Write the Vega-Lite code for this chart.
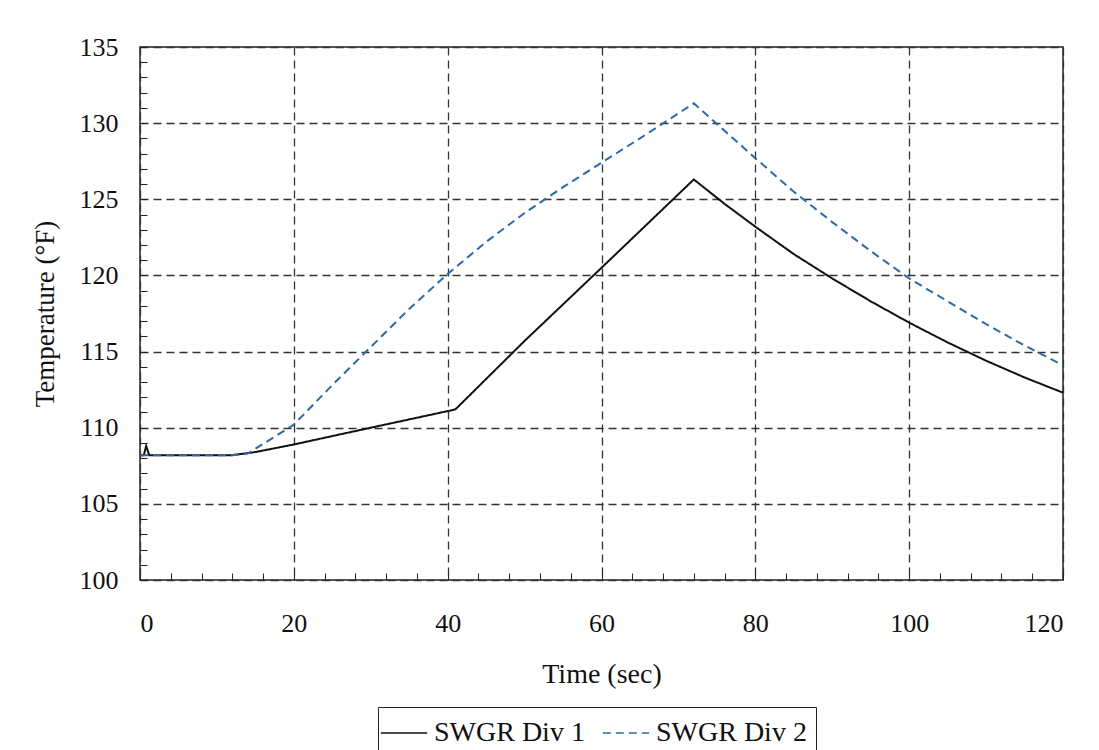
{
  "$schema": "https://vega.github.io/schema/vega-lite/v6.json",
  "width": 923,
  "height": 533,
  "autosize": {"type": "none"},
  "padding": {"left": 140, "top": 47, "right": 36, "bottom": 170},
  "background": "white",
  "config": {
    "view": {"stroke": "#222", "strokeWidth": 1.5},
    "font": "Liberation Serif"
  },
  "data": {
    "values": [
      {"time": 0, "temp": 108.2, "series": "SWGR Div 1"},
      {"time": 0.5, "temp": 108.2, "series": "SWGR Div 1"},
      {"time": 0.8, "temp": 108.8, "series": "SWGR Div 1"},
      {"time": 1.2, "temp": 108.2, "series": "SWGR Div 1"},
      {"time": 12, "temp": 108.2, "series": "SWGR Div 1"},
      {"time": 15, "temp": 108.4, "series": "SWGR Div 1"},
      {"time": 20, "temp": 108.9, "series": "SWGR Div 1"},
      {"time": 30, "temp": 110.0, "series": "SWGR Div 1"},
      {"time": 41, "temp": 111.2, "series": "SWGR Div 1"},
      {"time": 50, "temp": 115.7, "series": "SWGR Div 1"},
      {"time": 60, "temp": 120.5, "series": "SWGR Div 1"},
      {"time": 72, "temp": 126.3, "series": "SWGR Div 1"},
      {"time": 76, "temp": 124.7, "series": "SWGR Div 1"},
      {"time": 80, "temp": 123.2, "series": "SWGR Div 1"},
      {"time": 85, "temp": 121.4, "series": "SWGR Div 1"},
      {"time": 90, "temp": 119.8, "series": "SWGR Div 1"},
      {"time": 95, "temp": 118.3, "series": "SWGR Div 1"},
      {"time": 100, "temp": 116.9, "series": "SWGR Div 1"},
      {"time": 105, "temp": 115.6, "series": "SWGR Div 1"},
      {"time": 110, "temp": 114.4, "series": "SWGR Div 1"},
      {"time": 115, "temp": 113.3, "series": "SWGR Div 1"},
      {"time": 120, "temp": 112.3, "series": "SWGR Div 1"},
      {"time": 0, "temp": 108.2, "series": "SWGR Div 2"},
      {"time": 12, "temp": 108.2, "series": "SWGR Div 2"},
      {"time": 14, "temp": 108.3, "series": "SWGR Div 2"},
      {"time": 20, "temp": 110.2, "series": "SWGR Div 2"},
      {"time": 25, "temp": 112.8, "series": "SWGR Div 2"},
      {"time": 30, "temp": 115.3, "series": "SWGR Div 2"},
      {"time": 35, "temp": 117.8, "series": "SWGR Div 2"},
      {"time": 40, "temp": 120.1, "series": "SWGR Div 2"},
      {"time": 45, "temp": 122.2, "series": "SWGR Div 2"},
      {"time": 50, "temp": 124.1, "series": "SWGR Div 2"},
      {"time": 55, "temp": 125.8, "series": "SWGR Div 2"},
      {"time": 60, "temp": 127.4, "series": "SWGR Div 2"},
      {"time": 65, "temp": 129.0, "series": "SWGR Div 2"},
      {"time": 72, "temp": 131.3, "series": "SWGR Div 2"},
      {"time": 76, "temp": 129.5, "series": "SWGR Div 2"},
      {"time": 80, "temp": 127.7, "series": "SWGR Div 2"},
      {"time": 85, "temp": 125.5, "series": "SWGR Div 2"},
      {"time": 90, "temp": 123.5, "series": "SWGR Div 2"},
      {"time": 95, "temp": 121.6, "series": "SWGR Div 2"},
      {"time": 100, "temp": 119.8, "series": "SWGR Div 2"},
      {"time": 105, "temp": 118.3, "series": "SWGR Div 2"},
      {"time": 110, "temp": 116.8, "series": "SWGR Div 2"},
      {"time": 115, "temp": 115.4, "series": "SWGR Div 2"},
      {"time": 120, "temp": 114.1, "series": "SWGR Div 2"}
    ]
  },
  "layer": [
    {
      "mark": {"type": "line", "opacity": 0},
      "encoding": {
        "x": {
          "field": "time", "type": "quantitative",
          "scale": {"domain": [0, 120], "nice": false, "zero": false},
          "axis": {
            "orient": "bottom",
            "values": [0,4,8,12,16,20,24,28,32,36,40,44,48,52,56,60,64,68,72,76,80,84,88,92,96,100,104,108,112,116,120],
            "labels": false, "grid": false, "domain": false, "title": null,
            "tickSize": -7, "tickColor": "#222", "tickWidth": 1
          }
        },
        "y": {
          "field": "temp", "type": "quantitative",
          "scale": {"domain": [100, 135], "nice": false, "zero": false},
          "axis": {
            "orient": "left",
            "values": [100,101,102,103,104,105,106,107,108,109,110,111,112,113,114,115,116,117,118,119,120,121,122,123,124,125,126,127,128,129,130,131,132,133,134,135],
            "labels": false, "grid": false, "domain": false, "title": null,
            "tickSize": -7, "tickColor": "#222", "tickWidth": 1
          }
        }
      }
    },
    {
      "mark": {"type": "line", "strokeWidth": 2},
      "encoding": {
        "x": {
          "field": "time", "type": "quantitative",
          "scale": {"domain": [0, 120], "nice": false, "zero": false},
          "axis": {
            "orient": "bottom",
            "values": [0, 20, 40, 60, 80, 100, 120],
            "title": "Time (sec)",
            "titleFont": "Liberation Serif", "titleFontSize": 28, "titleFontWeight": "normal", "titleColor": "#111",
            "titlePadding": 24,
            "labelFont": "Liberation Serif", "labelFontSize": 26, "labelColor": "#111",
            "labelPadding": 30, "ticks": false, "domain": false,
            "grid": true, "gridDash": [8, 5], "gridColor": "#333", "gridWidth": 1.3
          }
        },
        "y": {
          "field": "temp", "type": "quantitative",
          "scale": {"domain": [100, 135], "nice": false, "zero": false},
          "axis": {
            "orient": "left",
            "values": [100, 105, 110, 115, 120, 125, 130, 135],
            "title": "Temperature (°F)",
            "titleFont": "Liberation Serif", "titleFontSize": 27, "titleFontWeight": "normal", "titleColor": "#111",
            "titlePadding": 20,
            "labelFont": "Liberation Serif", "labelFontSize": 26, "labelColor": "#111",
            "labelPadding": 22, "ticks": false, "domain": false,
            "grid": true, "gridDash": [8, 5], "gridColor": "#333", "gridWidth": 1.3
          }
        },
        "color": {
          "field": "series", "type": "nominal",
          "scale": {"domain": ["SWGR Div 1", "SWGR Div 2"], "range": ["#111111", "#2b6aa5"]},
          "legend": {
            "orient": "none", "legendX": 238, "legendY": 660, "direction": "horizontal",
            "title": null, "strokeColor": "#222", "padding": 9,
            "labelFont": "Liberation Serif", "labelFontSize": 28, "labelColor": "#111",
            "symbolType": "M-1.45,0H1.45", "symbolSize": 1024, "symbolStrokeWidth": 1.5,
            "columnPadding": 14, "labelOffset": 13
          }
        },
        "strokeDash": {
          "field": "series", "type": "nominal",
          "scale": {"domain": ["SWGR Div 1", "SWGR Div 2"], "range": [[1, 0], [8, 5]]},
          "legend": {
            "orient": "none", "legendX": 238, "legendY": 660, "direction": "horizontal",
            "title": null, "strokeColor": "#222", "padding": 9,
            "labelFont": "Liberation Serif", "labelFontSize": 28, "labelColor": "#111",
            "symbolType": "M-1.45,0H1.45", "symbolSize": 1024, "symbolStrokeWidth": 1.5,
            "columnPadding": 14, "labelOffset": 13
          }
        }
      }
    }
  ],
  "resolve": {"axis": {"x": "independent", "y": "independent"}}
}
